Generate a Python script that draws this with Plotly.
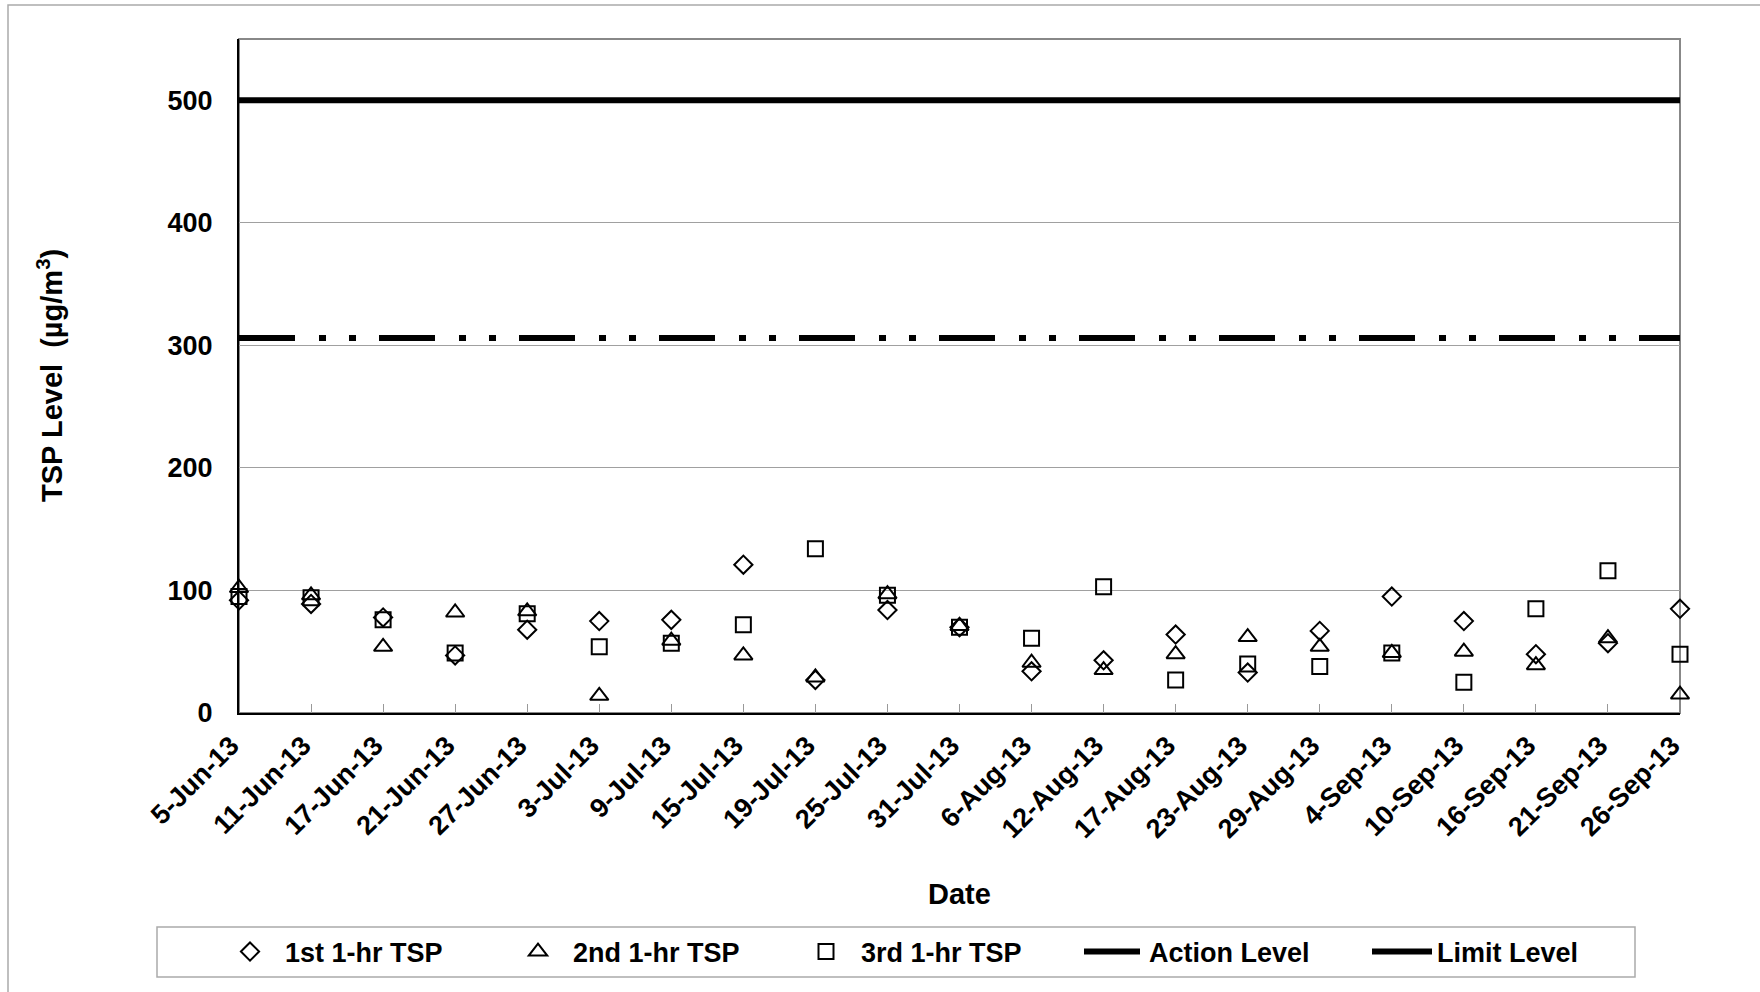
import plotly.graph_objects as go

# TSP monitoring results, 1-hr samples
dates = ['5-Jun-13', '11-Jun-13', '17-Jun-13', '21-Jun-13', '27-Jun-13', '3-Jul-13',
         '9-Jul-13', '15-Jul-13', '19-Jul-13', '25-Jul-13', '31-Jul-13', '6-Aug-13',
         '12-Aug-13', '17-Aug-13', '23-Aug-13', '29-Aug-13', '4-Sep-13', '10-Sep-13',
         '16-Sep-13', '21-Sep-13', '26-Sep-13']

tsp_1st = [92, 89, 78, 47, 68, 75, 76, 121, 27, 84, 70, 34, 43, 64, 33, 67, 95, 75, 48, 57, 85]
tsp_2nd = [102, 96, 54, 82, 83, 14, 59, 47, 29, 97, 71, 41, 35, 48, 62, 54, 49, 50, 39, 61, 15]
tsp_3rd = [95, 94, 76, 49, 81, 54, 57, 72, 134, 96, 70, 61, 103, 27, 40, 38, 49, 25, 85, 116, 48]

action_level = 306
limit_level = 500

FONT = 'Arial, Liberation Sans, sans-serif'
FSIZE = 27

# plot area in pixels (used for paper coords of frame / legend box)
L, R, T, B = 239, 1680, 39, 713
W, H = 1760, 992
pw, ph = R - L, B - T


def px_x(x):
    return (x - L) / pw


def px_y(y):
    return (B - y) / ph


bold = dict(family=FONT, size=FSIZE, color='black', weight='bold')
title_font = dict(family=FONT, size=29, color='black', weight='bold')

fig = go.Figure()

fig.add_trace(go.Scatter(
    x=dates, y=tsp_1st, mode='markers', name='1st 1-hr TSP', cliponaxis=False,
    marker=dict(symbol='diamond-open', size=14, color='black', line=dict(width=2))
))
fig.add_trace(go.Scatter(
    x=dates, y=tsp_2nd, mode='markers', name='2nd 1-hr TSP', cliponaxis=False,
    marker=dict(symbol='triangle-up-open', size=16, color='black', line=dict(width=2))
))
fig.add_trace(go.Scatter(
    x=dates, y=tsp_3rd, mode='markers', name='3rd 1-hr TSP', cliponaxis=False,
    marker=dict(symbol='square-open', size=15, color='black', line=dict(width=2))
))
fig.add_trace(go.Scatter(
    x=dates, y=[action_level] * len(dates), mode='lines', name='Action Level',
    line=dict(color='black', width=6, dash='56px,24px,7px,23px,7px,23px')
))
fig.add_trace(go.Scatter(
    x=dates, y=[limit_level] * len(dates), mode='lines', name='Limit Level',
    line=dict(color='black', width=6)
))

# outer chart frame (runs off right and bottom edges)
fig.add_shape(type='rect', xref='paper', yref='paper',
              x0=px_x(8), x1=px_x(W + 20), y0=px_y(H + 20), y1=px_y(5),
              line=dict(color='#aaaaaa', width=1.5), layer='below')
# plot area border (grey top/right)
fig.add_shape(type='rect', xref='paper', yref='paper', x0=0, x1=1, y0=0, y1=1,
              line=dict(color='#888888', width=2), layer='below')
# legend box
fig.add_shape(type='rect', xref='paper', yref='paper',
              x0=px_x(157), x1=px_x(1635), y0=px_y(977), y1=px_y(927),
              line=dict(color='#aaaaaa', width=1.5), layer='below')

fig.add_annotation(
    text='TSP Level  (µg/m<sup>3</sup>)', xref='paper', yref='paper',
    x=px_x(50), y=0.5, xanchor='center', yanchor='middle',
    textangle=-90, showarrow=False, font=title_font
)
fig.add_annotation(
    text='Date', xref='paper', yref='paper', x=0.5, y=px_y(894),
    showarrow=False, xanchor='center', yanchor='middle', font=title_font
)

fig.update_layout(
    width=W, height=H,
    margin=dict(l=L, r=W - R, t=T, b=H - B),
    plot_bgcolor='white', paper_bgcolor='white',
    font=dict(family=FONT, size=FSIZE, color='black'),
    showlegend=True,
    legend=dict(
        orientation='h', x=px_x(215), xanchor='left', y=px_y(952), yanchor='middle',
        font=bold, bgcolor='rgba(0,0,0,0)', borderwidth=0,
        itemwidth=60, entrywidth=213, entrywidthmode='pixels'
    ),
    xaxis=dict(
        type='category', range=[0, 20], showgrid=False,
        showline=True, linecolor='black', linewidth=2,
        ticks='inside', ticklen=9, tickcolor='#999999', tickwidth=1,
        tickangle=-45, ticklabelstandoff=4, ticklabelshift=-8, tickfont=bold
    ),
    yaxis=dict(
        range=[0, 550], tickvals=[0, 100, 200, 300, 400, 500],
        showgrid=True, gridcolor='#a0a0a0', gridwidth=1, zeroline=False,
        showline=True, linecolor='black', linewidth=2, ticks='',
        ticklabelstandoff=19, tickfont=bold
    )
)

# drop the default page margin so the figure sits at the window's top-left corner
fig.write_html('out.html', config={'displayModeBar': False},
               post_script="document.body.style.margin='0';")
